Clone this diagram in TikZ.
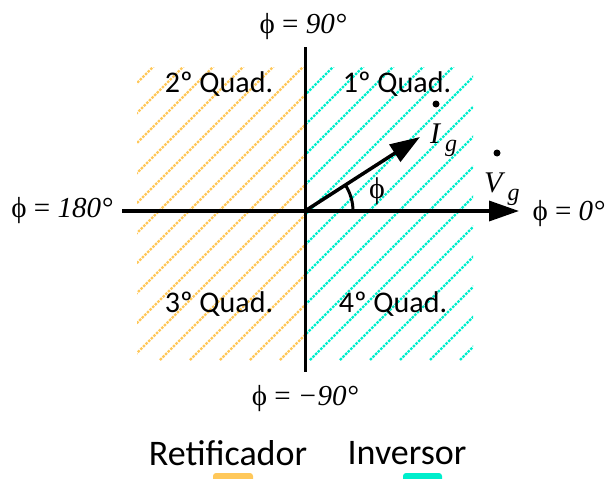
\documentclass[tikz,border=0pt]{standalone}
\usepackage{fontspec}
\setmainfont{Liberation Serif}
\newfontfamily\quadfont{Carlito}
\usetikzlibrary{arrows.meta}
\definecolor{retcolor}{RGB}{255,200,90}
\definecolor{invcolor}{RGB}{0,238,204}

\begin{document}
\begin{tikzpicture}[x=1pt, y=-1pt,
    axis/.style={line width=3pt},
    arr/.style={-{Triangle[length=30pt, width=20pt]}, line width=3.5pt},
    hatch/.style={line width=2.3pt, dash pattern=on 2.5pt off 1.2pt},
    quad/.style={font=\fontsize{30}{30}\quadfont, inner sep=0pt, anchor=base},
    anglbl/.style={font=\fontsize{29}{29}\selectfont, inner sep=0pt, anchor=base},
    phasor/.style={font=\fontsize{30}{30}\selectfont\itshape, inner sep=0pt, anchor=base west},
    legend/.style={font=\fontsize{36}{36}\quadfont, inner sep=0pt, anchor=base},
    dotnode/.style={circle, fill, inner sep=0pt, minimum size=7pt},
]
\useasboundingbox (0,0) rectangle (608,479);

% Hatched half planes
\begin{scope}
    \clip (137,67) rectangle (305,360);
    \foreach \c in {-170,-140,...,310}
        \draw[hatch, retcolor] (\c,360) -- ++(300,-300);
\end{scope}
\begin{scope}
    \clip (305,67) rectangle (473,360);
    \foreach \c in {10,40,...,490}
        \draw[hatch, invcolor] (\c,360) -- ++(300,-300);
\end{scope}

% Axes
\coordinate (O) at (305,211);
\coordinate (top) at (305,47);
\coordinate (bottom) at (305,372);
\coordinate (left) at (122,211);
\coordinate (right) at (519,211);
\coordinate (Itip) at (420,137);

\draw[axis] (top) -- (bottom);
\draw[arr] (left) -- (right);
\draw[arr] (O) -- (Itip);
\draw[axis] ([xshift=48pt]O) arc[start angle=0, end angle=-32.3, radius=48];

% Axis labels
\node[anglbl] (lbl90) at (303,33) {ϕ = \textit{90°}};
\node[anglbl] (lblm90) at (305,405) {ϕ = \textit{−90°}};
\node[anglbl] (lbl180) at (62,217) {ϕ = \textit{180°}};
\node[anglbl, anchor=base east] (lbl0) at (605,220) {ϕ = \textit{0°}};
\node[anglbl, font=\fontsize{30}{30}\selectfont] (phi) at (377,198) {ϕ};

% Quadrants
\node[quad] (q2) at (219,92) {2º Quad.};
\node[quad] (q1) at (397,92) {1º Quad.};
\node[quad] (q3) at (219,312) {3º Quad.};
\node[quad] (q4) at (393,312) {4º Quad.};

% Phasors
\node[dotnode] (dotI) at (436,104) {};
\node[phasor] (Ig) at (430,143) {I\,\raisebox{-8pt}{\fontsize{24}{24}\selectfont g}};
\node[dotnode] (dotV) at (497,153) {};
\node[phasor] (Vg) at (484,192) {V\,\raisebox{-8pt}{\fontsize{24}{24}\selectfont g}};

% Legend
\node[legend] (ret) at (228,465) {Retificador};
\node[legend] (inv) at (407,464) {Inversor};
\fill[retcolor, rounded corners=3pt] (213,473) rectangle (253,485);
\fill[invcolor, rounded corners=3pt] (403,473) rectangle (442,485);
\end{tikzpicture}
\end{document}
